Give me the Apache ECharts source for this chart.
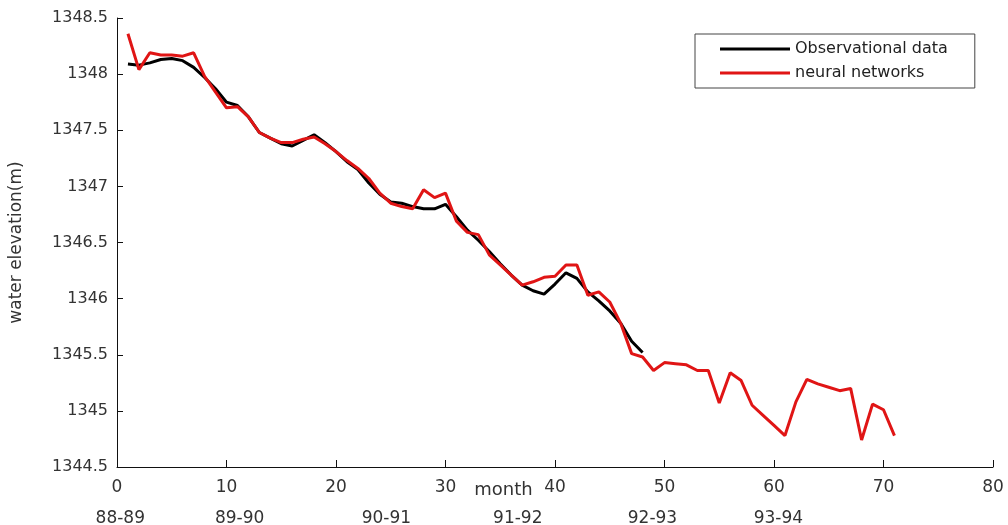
<!DOCTYPE html>
<html>
<head>
<meta charset="utf-8">
<script src="https://cdn.jsdelivr.net/npm/echarts@6/dist/echarts.min.js"></script>
<style>
html,body{margin:0;padding:0;background:#fff;}
#chart{width:1008px;height:525px;}
</style>
</head>
<body>
<div id="chart"></div>
<script>
// ---- data ----
const observed = [1348.09,1348.08,1348.10,1348.13,1348.14,1348.12,1348.06,1347.97,1347.87,1347.75,
  1347.72,1347.62,1347.48,1347.43,1347.38,1347.36,1347.41,1347.46,1347.39,1347.31,
  1347.22,1347.15,1347.03,1346.93,1346.86,1346.85,1346.82,1346.80,1346.80,1346.84,
  1346.73,1346.61,1346.52,1346.42,1346.31,1346.21,1346.12,1346.07,1346.04,1346.13,
  1346.23,1346.18,1346.06,1345.98,1345.89,1345.78,1345.62,1345.52];
const neural = [1348.36,1348.04,1348.19,1348.17,1348.17,1348.16,1348.19,1347.98,1347.84,1347.70,
  1347.71,1347.62,1347.48,1347.43,1347.39,1347.39,1347.42,1347.44,1347.38,1347.31,
  1347.23,1347.16,1347.07,1346.94,1346.85,1346.82,1346.80,1346.97,1346.90,1346.94,
  1346.69,1346.59,1346.57,1346.39,1346.30,1346.21,1346.12,1346.15,1346.19,1346.20,
  1346.30,1346.30,1346.03,1346.06,1345.97,1345.78,1345.51,1345.48,1345.36,1345.43,
  1345.42,1345.41,1345.36,1345.36,1345.07,1345.34,1345.27,1345.05,1344.96,1344.87,
  1344.78,1345.08,1345.28,1345.24,1345.21,1345.18,1345.20,1344.74,1345.06,1345.01,
  1344.78];
const seasonLabels = ['88-89','89-90','90-91','91-92','92-93','93-94'];
const seasonAnchors = [0.3, 11.2, 24.6, 36.6, 48.9, 60.4]; // month position of each season label
const monthAnchor = 35.3;
const seriesNames = ['Observational data','neural networks'];

const FONT = 'DejaVu Sans';
const toPairs = arr => arr.map((v,i)=>[i+1, v]);

const chart = echarts.init(document.getElementById('chart'), null, {renderer:'canvas'});
const option = {
  animation:false,
  backgroundColor:'#fff',
  textStyle:{fontFamily:FONT},
  grid:{left:117, right:15, top:18, bottom:58, containLabel:false},
  legend:{
    orient:'vertical', left:695, top:34,
    padding:[7,27,7,25], itemGap:8,
    itemWidth:70, itemHeight:3, icon:'rect',
    borderColor:'#444', borderWidth:1,
    textStyle:{fontFamily:FONT, fontSize:16, color:'#222'},
    data:seriesNames
  },
  xAxis:{
    type:'value', min:0, max:80, interval:10,
    axisLine:{lineStyle:{color:'#111', width:1}},
    axisTick:{inside:true, length:7, lineStyle:{color:'#111'}},
    axisLabel:{fontFamily:FONT, fontSize:17, color:'#333', margin:12},
    splitLine:{show:false}
  },
  yAxis:{
    type:'value', min:1344.5, max:1348.5, interval:0.5,
    name:'water elevation(m)', nameLocation:'middle', nameGap:92,
    nameTextStyle:{fontFamily:FONT, fontSize:17, color:'#333'},
    axisLine:{show:true, lineStyle:{color:'#111', width:1}},
    axisTick:{inside:true, length:6, lineStyle:{color:'#111'}},
    axisLabel:{fontFamily:FONT, fontSize:16, color:'#333', margin:9, formatter:v=>String(v)},
    splitLine:{show:false}
  },
  series:[
    {name:seriesNames[0], type:'line', data:toPairs(observed), showSymbol:false, symbol:'none',
     lineStyle:{color:'#000', width:3}, itemStyle:{color:'#000'}, z:2},
    {name:seriesNames[1], type:'line', data:toPairs(neural), showSymbol:false, symbol:'none',
     lineStyle:{color:'#e01515', width:3}, itemStyle:{color:'#e01515'}, z:3}
  ]
};
chart.setOption(option);

const yBase = chart.convertToPixel({gridIndex:0}, [0, 1344.5])[1];
const graphics = seasonLabels.map((t,i)=>{
  const px = chart.convertToPixel({gridIndex:0}, [seasonAnchors[i], 1344.5])[0];
  return {type:'text', x:px, y:yBase+52, style:{text:t, fontFamily:FONT, fontSize:17, fill:'#333', align:'center', verticalAlign:'middle'}};
});
const mx = chart.convertToPixel({gridIndex:0}, [monthAnchor, 1344.5])[0];
graphics.push({type:'text', x:mx, y:yBase+23, style:{text:'month', fontFamily:FONT, fontSize:18, fill:'#333', align:'center', verticalAlign:'middle', backgroundColor:'#fff'}});
chart.setOption({graphic:graphics});
</script>
</body>
</html>
